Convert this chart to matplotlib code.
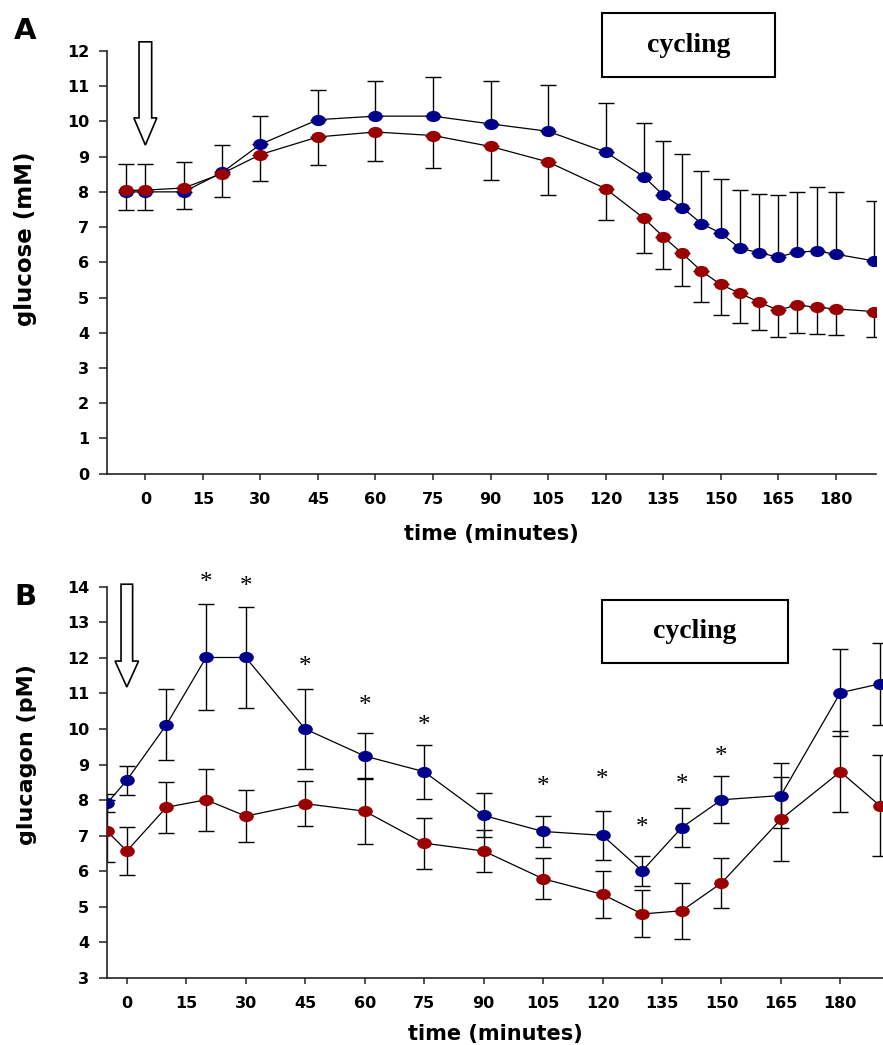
import matplotlib
matplotlib.use("Agg")
import matplotlib.pyplot as plt
import matplotlib.patches as mpatches
from matplotlib.path import Path
from matplotlib.transforms import Affine2D

# panel A - glucose (mM)
t_glucose = [-5, 0, 10, 20, 30, 45, 60, 75, 90, 105, 120, 130, 135, 140, 145, 150, 155, 160, 165, 170, 175, 180, 190]
glucose_blue = [8.0, 8.0, 8.0, 8.55, 9.35, 10.05, 10.15, 10.15, 9.93, 9.72, 9.13, 8.43, 7.91, 7.55, 7.10, 6.83,
                6.40, 6.27, 6.15, 6.29, 6.32, 6.23, 6.04]
glucose_blue_err = [0.78, 0.80, 0.86, 0.79, 0.81, 0.85, 1.01, 1.11, 1.22, 1.32, 1.40, 1.52, 1.53, 1.52, 1.50, 1.54,
                    1.64, 1.68, 1.75, 1.72, 1.83, 1.76, 1.71]
glucose_red = [8.04, 8.05, 8.11, 8.52, 9.06, 9.56, 9.70, 9.60, 9.29, 8.85, 8.09, 7.25, 6.73, 6.25, 5.75, 5.37,
               5.12, 4.87, 4.64, 4.79, 4.72, 4.68, 4.60]
glucose_red_err = [0.55, 0.56, 0.60, 0.66, 0.74, 0.79, 0.83, 0.92, 0.94, 0.94, 0.89, 0.99, 0.93, 0.92, 0.87, 0.88,
                   0.83, 0.79, 0.77, 0.79, 0.75, 0.74, 0.73]

# panel B - glucagon (pM)
t_glucagon = [-5, 0, 10, 20, 30, 45, 60, 75, 90, 105, 120, 130, 140, 150, 165, 180, 190]
glucagon_blue = [7.91, 8.56, 10.12, 12.01, 12.01, 10.0, 9.24, 8.80, 7.57, 7.12, 7.01, 6.01, 7.23, 8.01, 8.13,
                 11.02, 11.27]
glucagon_blue_err = [0.25, 0.41, 1.0, 1.49, 1.41, 1.12, 0.65, 0.76, 0.62, 0.44, 0.68, 0.41, 0.55, 0.66, 0.9,
                     1.22, 1.16]
glucagon_red = [7.13, 6.57, 7.80, 8.01, 7.55, 7.90, 7.69, 6.79, 6.57, 5.79, 5.35, 4.80, 4.89, 5.67, 7.46, 8.80, 7.84]
glucagon_red_err = [0.86, 0.68, 0.72, 0.87, 0.73, 0.63, 0.92, 0.72, 0.6, 0.57, 0.66, 0.66, 0.78, 0.7, 1.18, 1.13,
                    1.42]

star_t = [20, 30, 45, 60, 75, 105, 120, 130, 140, 150]
star_y = [14.1, 14.0, 11.75, 10.64, 10.08, 8.36, 8.56, 7.22, 8.42, 9.22]

time_ticks = list(range(0, 181, 15))

BLUE = "#00008B"
RED = "#9B0000"
TICKFONT = dict(family="DejaVu Sans", weight="bold", size=11.5)

ellipse = Path.unit_circle().transformed(Affine2D().scale(1.35, 1.0))

fig = plt.figure(figsize=(8.83, 10.45), dpi=100)
W, H = 883.0, 1045.0


def style_axes(ax):
    for side in ["top", "right"]:
        ax.spines[side].set_visible(False)
    for side in ["left", "bottom"]:
        ax.spines[side].set_linewidth(1.2)
        ax.spines[side].set_color("#222222")
    ax.tick_params(axis="y", direction="out", length=6, width=1.1, color="#222222", pad=7)
    ax.tick_params(axis="x", direction="out", length=4, width=1.1, color="#222222", pad=9)
    for lab in ax.get_xticklabels() + ax.get_yticklabels():
        lab.set_fontproperties(matplotlib.font_manager.FontProperties(**TICKFONT))


def draw_series(ax, t, y, err, color, lolims_up=True, both=False, capsize=6):
    if both:
        yerr = err
    elif lolims_up:
        yerr = [[0] * len(err), err]
    else:
        yerr = [err, [0] * len(err)]
    ax.errorbar(t, y, yerr=yerr, fmt="none", ecolor="black", elinewidth=1.0, capsize=capsize,
                capthick=1.0, zorder=2)
    ax.plot(t, y, color="black", lw=0.9, zorder=3)
    ax.plot(t, y, linestyle="none", marker=ellipse, ms=9.5, mfc=color, mec=color, zorder=4)


def down_arrow(ax, x, top, head, tip, shaft_hw, head_hw):
    verts = [(x - shaft_hw, top), (x + shaft_hw, top), (x + shaft_hw, head), (x + head_hw, head),
             (x, tip), (x - head_hw, head), (x - shaft_hw, head)]
    ax.add_patch(mpatches.Polygon(verts, closed=True, fc="white", ec="black", lw=1.2,
                                  clip_on=False, zorder=5))


def label_box(x0, y0, x1, y1, text):
    fig.patches.append(mpatches.Rectangle((x0 / W, 1 - y1 / H), (x1 - x0) / W, (y1 - y0) / H,
                                          transform=fig.transFigure, fill=False, ec="black", lw=1.5))
    fig.text((x0 + x1) / 2 / W, 1 - (y0 + y1) / 2 / H, text, ha="center", va="center",
             family="Liberation Serif", weight="bold", size=20)


# ---- panel A
axA = fig.add_axes([107 / W, 1 - 473.6 / H, (876 - 107) / W, (473.6 - 51) / H])
draw_series(axA, t_glucose, glucose_blue, glucose_blue_err, BLUE, lolims_up=True, capsize=6)
draw_series(axA, t_glucose, glucose_red, glucose_red_err, RED, lolims_up=False, capsize=6)
axA.set_xlim(-10, 190.5)
axA.set_ylim(0, 12)
axA.set_yticks(range(0, 13))
axA.set_xticks(time_ticks)
style_axes(axA)
down_arrow(axA, 0, 12.26, 10.1, 9.33, 1.65, 3.0)

# ---- panel B
axB = fig.add_axes([107 / W, 1 - 978 / H, 776 / W, (978 - 586.7) / H])
draw_series(axB, t_glucagon, glucagon_blue, glucagon_blue_err, BLUE, both=True, capsize=5.5)
draw_series(axB, t_glucagon, glucagon_red, glucagon_red_err, RED, both=True, capsize=5.5)
for t, y in zip(star_t, star_y):
    axB.text(t, y, "*", ha="center", va="center", family="Liberation Serif", size=18)
axB.set_xlim(-5, 190.76)
axB.set_ylim(3, 14)
axB.set_yticks(range(3, 15))
axB.set_xticks(time_ticks)
style_axes(axB)
down_arrow(axB, 0, 14.07, 11.91, 11.18, 1.46, 2.97)

# labels
fig.text(491 / W, 1 - 534 / H, "time (minutes)", ha="center", va="center",
         family="DejaVu Sans", weight="bold", size=15)
fig.text(495 / W, 1 - 1034 / H, "time (minutes)", ha="center", va="center",
         family="DejaVu Sans", weight="bold", size=15)
fig.text(26 / W, 1 - 239 / H, "glucose (mM)", ha="center", va="center", rotation=90,
         family="DejaVu Sans", weight="bold", size=16.5)
fig.text(27 / W, 1 - 755 / H, "glucagon (pM)", ha="center", va="center", rotation=90,
         family="DejaVu Sans", weight="bold", size=16)
fig.text(25 / W, 1 - 31 / H, "A", ha="center", va="center", family="DejaVu Sans", weight="bold", size=21)
fig.text(25 / W, 1 - 597 / H, "B", ha="center", va="center", family="DejaVu Sans", weight="bold", size=21)

label_box(602, 13, 775, 77, "cycling")
label_box(602, 600, 788, 663, "cycling")

fig.savefig("out.png", dpi=100)
